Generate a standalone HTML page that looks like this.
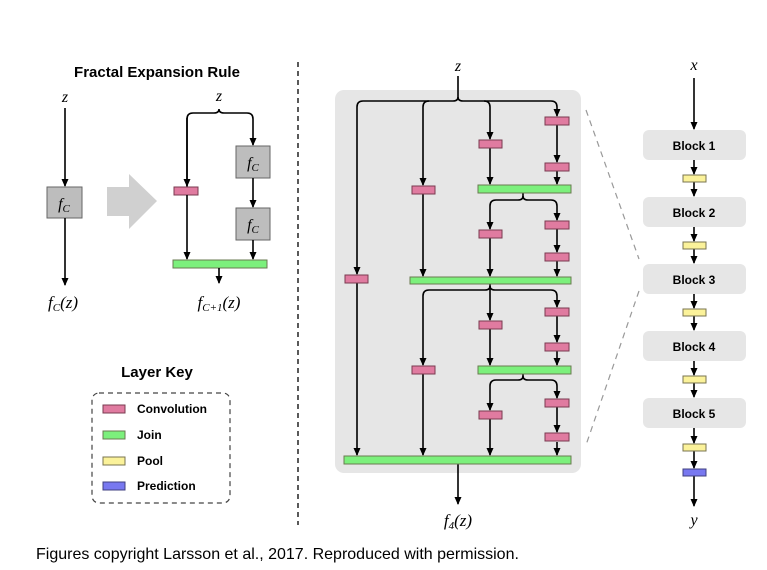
<!DOCTYPE html>
<html><head><meta charset="utf-8"><style>
html,body{margin:0;padding:0;background:#fff;}
svg{display:block;}
.t{font-family:"Liberation Sans",Arial,sans-serif;}
.m{font-family:"Liberation Serif","DejaVu Serif",serif;font-style:italic;}
</style></head><body>
<svg width="767" height="570" viewBox="0 0 767 570" xmlns="http://www.w3.org/2000/svg">
<defs>
<marker id="a" markerWidth="8" markerHeight="8" refX="7" refY="4" orient="auto" markerUnits="userSpaceOnUse">
<path d="M0,0.5 L8,4 L0,7.5 Z" fill="#000"/></marker>
</defs>
<g fill="none" stroke="#000" stroke-width="1.6">
</g>
<!-- LEFT -->
<text x="157" y="77" class="t" font-size="15" font-weight="bold" text-anchor="middle">Fractal Expansion Rule</text>
<text x="65" y="102" class="m" font-size="16" text-anchor="middle">z</text>
<line x1="65" y1="108" x2="65" y2="186" stroke="#000" stroke-width="1.6" marker-end="url(#a)"/>
<rect x="47" y="187" width="35" height="31" fill="#bdbdbd" stroke="#666"/>
<text x="64" y="209" class="m" font-size="16" text-anchor="middle">f<tspan font-size="11" dy="3">C</tspan></text>
<line x1="65" y1="218" x2="65" y2="285" stroke="#000" stroke-width="1.6" marker-end="url(#a)"/>
<text x="63" y="308" class="m" font-size="17" text-anchor="middle">f<tspan font-size="11" dy="3">C</tspan><tspan dy="-3">(z)</tspan></text>
<path d="M107,187 L129,187 L129,174 L157,201 L129,229 L129,216 L107,216 Z" fill="#d0d0d0"/>
<text x="219" y="101" class="m" font-size="16" text-anchor="middle">z</text>
<path d="M187,190 L187,119 Q187,113 193,113 L214,113 Q219,113 219,109 Q219,113 224,113 L247,113 Q253,113 253,119 L253,145" fill="none" stroke="#000" stroke-width="1.6" marker-end="url(#a)"/>
<line x1="187" y1="118" x2="187" y2="186" stroke="#000" stroke-width="1.6" marker-end="url(#a)"/>
<rect x="174" y="187" width="24" height="8" fill="#e07ba0" stroke="#7a3b50"/>
<line x1="187" y1="195" x2="187" y2="259" stroke="#000" stroke-width="1.6" marker-end="url(#a)"/>
<rect x="236" y="146" width="34" height="32" fill="#bdbdbd" stroke="#666"/>
<text x="253" y="168" class="m" font-size="16" text-anchor="middle">f<tspan font-size="11" dy="3">C</tspan></text>
<line x1="253" y1="178" x2="253" y2="207" stroke="#000" stroke-width="1.6" marker-end="url(#a)"/>
<rect x="236" y="208" width="34" height="32" fill="#bdbdbd" stroke="#666"/>
<text x="253" y="230" class="m" font-size="16" text-anchor="middle">f<tspan font-size="11" dy="3">C</tspan></text>
<line x1="253" y1="240" x2="253" y2="259" stroke="#000" stroke-width="1.6" marker-end="url(#a)"/>
<rect x="173" y="260" width="94" height="8" fill="#7cf07c" stroke="#6a7a50"/>
<line x1="219" y1="268" x2="219" y2="283" stroke="#000" stroke-width="1.6" marker-end="url(#a)"/>
<text x="219" y="308" class="m" font-size="17" text-anchor="middle">f<tspan font-size="11" dy="3">C+1</tspan><tspan dy="-3">(z)</tspan></text>
<!-- legend -->
<text x="157" y="377" class="t" font-size="15" font-weight="bold" text-anchor="middle">Layer Key</text>
<rect x="92" y="393" width="138" height="110" rx="7" fill="none" stroke="#444" stroke-dasharray="5,4" stroke-width="1.2"/>
<rect x="103" y="405" width="22" height="8" fill="#e07ba0" stroke="#7a3b50"/>
<text x="137" y="413" class="t" font-size="12" font-weight="bold">Convolution</text>
<rect x="103" y="431" width="22" height="8" fill="#7cf07c" stroke="#6a7a50"/>
<text x="137" y="439" class="t" font-size="12" font-weight="bold">Join</text>
<rect x="103" y="457" width="22" height="8" fill="#fbf29a" stroke="#7a7450"/>
<text x="137" y="465" class="t" font-size="12" font-weight="bold">Pool</text>
<rect x="103" y="482" width="22" height="8" fill="#7878f0" stroke="#404080"/>
<text x="137" y="490" class="t" font-size="12" font-weight="bold">Prediction</text>
<line x1="298" y1="62" x2="298" y2="525" stroke="#000" stroke-width="1.3" stroke-dasharray="5,4"/>
<!-- MIDDLE -->
<rect x="335" y="90" width="246" height="383" rx="9" fill="#e6e6e6"/>
<text x="458" y="71" class="m" font-size="16" text-anchor="middle">z</text>
<g fill="none" stroke="#000" stroke-width="1.6">
<path d="M458,76 L458,97 Q458,101 453,101 L363,101 Q357,101 357,107 L357,274" marker-end="url(#a)"/>
<path d="M458,97 Q458,101 463,101 L551,101 Q557,101 557,107 L557,116" marker-end="url(#a)"/>
<path d="M429,101 Q423,101 423,107 L423,185" marker-end="url(#a)"/>
<path d="M484,101 Q490,101 490,107 L490,139" marker-end="url(#a)"/>
<path d="M557,125 L557,162" marker-end="url(#a)"/>
<path d="M557,171 L557,184" marker-end="url(#a)"/>
<path d="M490,148 L490,184" marker-end="url(#a)"/>
<path d="M423,194 L423,276" marker-end="url(#a)"/>
<!-- brace under join1 -->
<path d="M523,193 L523,196 Q523,200 518,200 L496,200 Q490,200 490,206 L490,229" marker-end="url(#a)"/>
<path d="M523,196 Q523,200 528,200 L551,200 Q557,200 557,206 L557,220" marker-end="url(#a)"/>
<path d="M557,229 L557,252" marker-end="url(#a)"/>
<path d="M557,260 L557,276" marker-end="url(#a)"/>
<path d="M490,238 L490,276" marker-end="url(#a)"/>
<!-- under join2 -->
<path d="M490,284 L490,320" marker-end="url(#a)"/>
<path d="M490,286 Q490,290 485,290 L429,290 Q423,290 423,296 L423,365" marker-end="url(#a)"/>
<path d="M490,286 Q490,290 495,290 L551,290 Q557,290 557,296 L557,307" marker-end="url(#a)"/>
<path d="M557,316 L557,342" marker-end="url(#a)"/>
<path d="M557,351 L557,365" marker-end="url(#a)"/>
<path d="M490,329 L490,365" marker-end="url(#a)"/>
<path d="M523,374 L523,376 Q523,380 518,380 L496,380 Q490,380 490,386 L490,410" marker-end="url(#a)"/>
<path d="M523,376 Q523,380 528,380 L551,380 Q557,380 557,386 L557,398" marker-end="url(#a)"/>
<path d="M557,407 L557,432" marker-end="url(#a)"/>
<path d="M557,442 L557,455" marker-end="url(#a)"/>
<path d="M490,419 L490,455" marker-end="url(#a)"/>
<path d="M423,374 L423,455" marker-end="url(#a)"/>
<path d="M357,283 L357,455" marker-end="url(#a)"/>
<path d="M458,464 L458,504" marker-end="url(#a)"/>
</g>
<g fill="#e07ba0" stroke="#7a3b50">
<rect x="545" y="117" width="24" height="8"/>
<rect x="545" y="163" width="24" height="8"/>
<rect x="479" y="140" width="23" height="8"/>
<rect x="412" y="186" width="23" height="8"/>
<rect x="479" y="230" width="23" height="8"/>
<rect x="545" y="221" width="24" height="8"/>
<rect x="545" y="253" width="24" height="8"/>
<rect x="345" y="275" width="23" height="8"/>
<rect x="479" y="321" width="23" height="8"/>
<rect x="545" y="308" width="24" height="8"/>
<rect x="545" y="343" width="24" height="8"/>
<rect x="412" y="366" width="23" height="8"/>
<rect x="479" y="411" width="23" height="8"/>
<rect x="545" y="399" width="24" height="8"/>
<rect x="545" y="433" width="24" height="8"/>
</g>
<g fill="#7cf07c" stroke="#6a7a50">
<rect x="478" y="185" width="93" height="8"/>
<rect x="410" y="277" width="161" height="7"/>
<rect x="478" y="366" width="93" height="8"/>
<rect x="344" y="456" width="227" height="8"/>
</g>
<text x="458" y="526" class="m" font-size="17" text-anchor="middle">f<tspan font-size="11" dy="3">4</tspan><tspan dy="-3">(z)</tspan></text>
<!-- diagonals -->
<line x1="586" y1="110" x2="639" y2="259" stroke="#999" stroke-width="1.2" stroke-dasharray="6,5"/>
<line x1="639" y1="291" x2="586" y2="445" stroke="#999" stroke-width="1.2" stroke-dasharray="6,5"/>
<!-- RIGHT -->
<text x="694" y="70" class="m" font-size="16" text-anchor="middle">x</text>
<g fill="none" stroke="#000" stroke-width="1.6">
<line x1="694" y1="78" x2="694" y2="129" marker-end="url(#a)"/>
<line x1="694" y1="160" x2="694" y2="174" marker-end="url(#a)"/>
<line x1="694" y1="182" x2="694" y2="196" marker-end="url(#a)"/>
<line x1="694" y1="227" x2="694" y2="241" marker-end="url(#a)"/>
<line x1="694" y1="249" x2="694" y2="263" marker-end="url(#a)"/>
<line x1="694" y1="294" x2="694" y2="308" marker-end="url(#a)"/>
<line x1="694" y1="316" x2="694" y2="330" marker-end="url(#a)"/>
<line x1="694" y1="361" x2="694" y2="375" marker-end="url(#a)"/>
<line x1="694" y1="383" x2="694" y2="397" marker-end="url(#a)"/>
<line x1="694" y1="428" x2="694" y2="443" marker-end="url(#a)"/>
<line x1="694" y1="451" x2="694" y2="468" marker-end="url(#a)"/>
<line x1="694" y1="476" x2="694" y2="506" marker-end="url(#a)"/>
</g>
<g fill="#e6e6e6">
<rect x="643" y="130" width="103" height="30" rx="6"/>
<rect x="643" y="197" width="103" height="30" rx="6"/>
<rect x="643" y="264" width="103" height="30" rx="6"/>
<rect x="643" y="331" width="103" height="30" rx="6"/>
<rect x="643" y="398" width="103" height="30" rx="6"/>
</g>
<g class="t" font-size="12" font-weight="bold" text-anchor="middle">
<text x="694" y="150">Block 1</text>
<text x="694" y="217">Block 2</text>
<text x="694" y="284">Block 3</text>
<text x="694" y="351">Block 4</text>
<text x="694" y="418">Block 5</text>
</g>
<g fill="#fbf29a" stroke="#7a7450">
<rect x="683" y="175" width="23" height="7"/>
<rect x="683" y="242" width="23" height="7"/>
<rect x="683" y="309" width="23" height="7"/>
<rect x="683" y="376" width="23" height="7"/>
<rect x="683" y="444" width="23" height="7"/>
</g>
<rect x="683" y="469" width="23" height="7" fill="#7878f0" stroke="#404080"/>
<text x="694" y="525" class="m" font-size="16" text-anchor="middle">y</text>
<text x="36" y="559" class="t" font-size="16">Figures copyright Larsson et al., 2017. Reproduced with permission.</text>
</svg>
</body></html>
